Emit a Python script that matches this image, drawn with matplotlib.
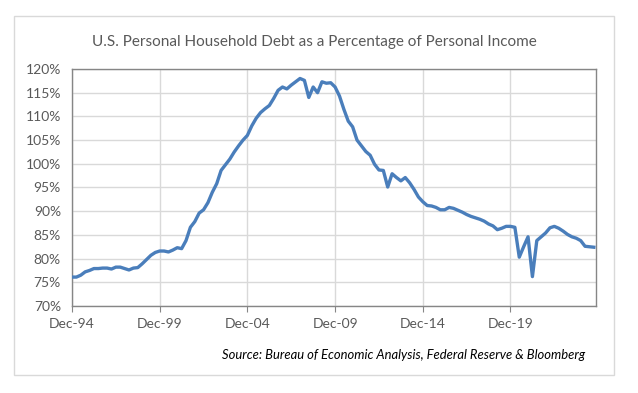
import matplotlib
matplotlib.use("Agg")
import matplotlib.pyplot as plt
from matplotlib.patches import Rectangle

# quarterly, Dec-94 onward (household debt / personal income, %)
debt_pct = [
    76.1, 76.1, 76.5, 77.2, 77.5, 77.9, 77.9, 78.0, 78.0, 77.8,
    78.2, 78.2, 77.9, 77.6, 78.0, 78.1, 78.9, 79.8, 80.7, 81.3,
    81.6, 81.6, 81.4, 81.8, 82.3, 82.1, 83.8, 86.6, 87.8, 89.6,
    90.3, 91.8, 94.0, 95.8, 98.6, 99.8, 101.0, 102.5, 103.8, 105.0,
    106.0, 108.0, 109.6, 110.8, 111.6, 112.3, 113.8, 115.5, 116.2, 115.8,
    116.6, 117.3, 118.0, 117.6, 114.0, 116.2, 115.0, 117.3, 117.0, 117.1,
    116.2, 114.3, 111.5, 109.0, 107.8, 105.0, 103.8, 102.6, 101.8, 99.9,
    98.7, 98.6, 95.1, 97.9, 97.1, 96.4, 97.1, 96.0, 94.6, 93.0,
    92.0, 91.2, 91.1, 90.8, 90.3, 90.3, 90.8, 90.6, 90.2, 89.8,
    89.3, 88.9, 88.6, 88.3, 87.9, 87.3, 86.9, 86.1, 86.4, 86.8,
    86.8, 86.6, 80.3, 82.5, 84.6, 76.2, 83.8, 84.6, 85.4, 86.5,
    86.8, 86.4, 85.8, 85.1, 84.6, 84.3, 83.8, 82.6, 82.5, 82.4,
]
tick_labels = ["Dec-94", "Dec-99", "Dec-04", "Dec-09", "Dec-14", "Dec-19"]
tick_pos = [0, 20, 40, 60, 80, 100]
y_ticks = list(range(70, 121, 5))

plt.rcParams['font.family'] = ['Lato', 'DejaVu Sans']
txt = '#595959'

fig = plt.figure(figsize=(6.38, 3.93), dpi=100)
W, H = 638, 393
ax = fig.add_axes([72 / W, 1 - 306 / H, (596 - 72) / W, (306 - 69) / H])

# outer chart border
fig.patches.append(Rectangle((14 / W, 1 - 375 / H), 600 / W, 359 / H,
                             transform=fig.transFigure, fill=False,
                             edgecolor='#d9d9d9', linewidth=1))

ax.plot(range(len(debt_pct)), debt_pct, color='#4a7ebb', linewidth=2.4,
        solid_joinstyle='round', zorder=3)

ax.set_xlim(0, len(debt_pct) - 0.5)
ax.set_ylim(70, 120)
ax.set_yticks(y_ticks)
ax.set_yticklabels([f"{v}%" for v in y_ticks])
ax.set_xticks(tick_pos)
ax.set_xticklabels(tick_labels)
ax.grid(True, color='#d9d9d9', linewidth=1)
ax.set_axisbelow(True)
for s in ax.spines.values():
    s.set_color('#868686')
    s.set_linewidth(1)
ax.tick_params(axis='y', length=0, pad=8, labelsize=10, labelcolor=txt)
ax.tick_params(axis='x', length=4, color='#868686', pad=5, labelsize=10,
               labelcolor=txt)

fig.text(314 / W, 1 - 42 / H,
         "U.S. Personal Household Debt as a Percentage of Personal Income",
         ha='center', va='center', fontsize=11, color=txt)
fig.text(585 / W, 1 - 355 / H,
         "Source: Bureau of Economic Analysis, Federal Reserve & Bloomberg",
         ha='right', va='center', fontsize=9.4, style='italic', color='black')

fig.savefig("out.png", dpi=100)
